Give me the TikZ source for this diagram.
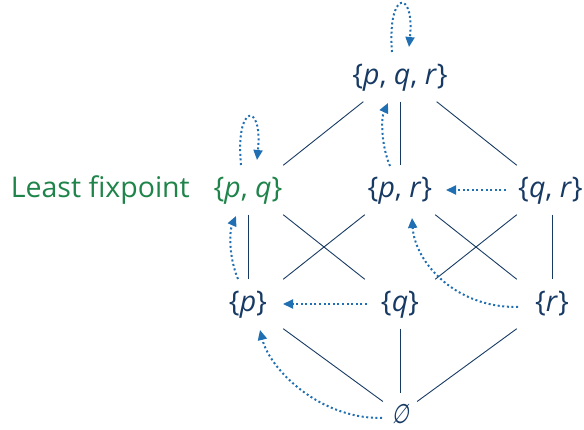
\documentclass[tikz,border=0pt]{standalone}
\usepackage{fontspec}
\setmainfont{Open Sans}
\newfontfamily\emptysetfont[FakeStretch=0.72,FakeSlant=0.2]{DejaVu Sans}
\usetikzlibrary{arrows.meta}
\definecolor{navy}{HTML}{173A64}
\definecolor{arrblue}{HTML}{1F6FB2}
\definecolor{lfpgreen}{HTML}{1E8449}
\begin{document}
\begin{tikzpicture}[x=1pt,y=-1pt,
  setnode/.style={rectangle, inner sep=0pt, minimum width=70pt, minimum height=49pt,
    text=navy, font=\fontsize{28.5}{34}\selectfont, text height=22pt, text depth=7pt},
  emptynode/.style={circle, inner sep=0pt, minimum size=42pt, text=navy,
    font=\fontsize{27}{32}\selectfont},
  edge/.style={draw=navy, line width=0.9pt},
  dotarrow/.style={draw=arrblue, line width=2pt, dash pattern=on 2pt off 2.6pt,
    -{Triangle[length=10pt,width=9pt]}}]
\useasboundingbox (0,0) rectangle (584,430);

\node[setnode, minimum width=73pt] (pqr) at (400,77) {\makebox[0pt]{\{\textit{p}, \textit{q}, \textit{r}\}}};
\node[setnode, text=lfpgreen] (pq) at (248,190) {\makebox[0pt]{\{\textit{p}, \textit{q}\}}};
\node[setnode] (pr) at (400,190) {\makebox[0pt]{\{\textit{p}, \textit{r}\}}};
\node[setnode] (qr) at (552,190) {\makebox[0pt]{\kern-3pt\{\textit{q}, \textit{r}\}}};
\node[setnode] (p) at (248,304) {\makebox[0pt]{\{\textit{p}\}}};
\node[setnode] (q) at (400,304) {\makebox[0pt]{\{\textit{q}\}}};
\node[setnode] (r) at (552,304) {\makebox[0pt]{\{\textit{r}\}}};
\node[emptynode] (e) at (400,414) {\emptysetfont ∅};
\node[anchor=base east, inner sep=0pt, text=lfpgreen, font=\fontsize{28.5}{34}\selectfont] (lfp) at (190,198) {Least fixpoint};

% Hasse diagram edges
\draw[edge] (pqr.south west) -- (pq.north east);
\draw[edge] (pqr.south) -- (pr.north);
\draw[edge] (pqr.south east) -- (qr.north west);
\draw[edge] (pq.south) -- (p.north);
\draw[edge] (pq.south east) -- (q.north west);
\draw[edge] (pr.south west) -- (p.north east);
\draw[edge] (pr.south east) -- (r.north west);
\draw[edge] (qr.south west) -- (q.north east);
\draw[edge] (qr.south) -- (r.north);
\draw[edge] (p.south east) -- (e);
\draw[edge] (q.south) -- (e);
\draw[edge] (r.south west) -- (e);

% dotted arrows
\draw[dotarrow] ([shift={(-8,-25)}]pqr.center) .. controls ([shift={(-13,-88)}]pqr.center) and ([shift={(15,-88)}]pqr.center) .. ([shift={(9,-30)}]pqr.center);
\draw[dotarrow] ([shift={(-7,-25)}]pq.center) .. controls ([shift={(-13,-88)}]pq.center) and ([shift={(15,-88)}]pq.center) .. ([shift={(9,-30)}]pq.center);
\draw[dotarrow] ([shift={(-10,-24)}]pr.center) .. controls ([shift={(-19,-45)}]pr.center) and ([shift={(-19,41)}]pqr.center) .. ([shift={(-12,26)}]pqr.center);
\draw[dotarrow] ([shift={(-10,-25)}]p.center) .. controls ([shift={(-19,-46)}]p.center) and ([shift={(-19,42)}]pq.center) .. ([shift={(-12,26)}]pq.center);
\draw[dotarrow] ([shift={(-46,0)}]qr.center) -- ([shift={(46,0)}]pr.center);
\draw[dotarrow] ([shift={(-33,0)}]q.center) -- ([shift={(35,0)}]p.center);
\draw[dotarrow] ([shift={(-34,3)}]r.center) .. controls ([shift={(-97,4)}]r.center) and ([shift={(15,72)}]pr.center) .. ([shift={(12,28)}]pr.center);
\draw[dotarrow] ([shift={(-18,4)}]e.center) .. controls ([shift={(-80,5)}]e.center) and ([shift={(22,66)}]p.center) .. ([shift={(12,26)}]p.center);
\end{tikzpicture}
\end{document}
